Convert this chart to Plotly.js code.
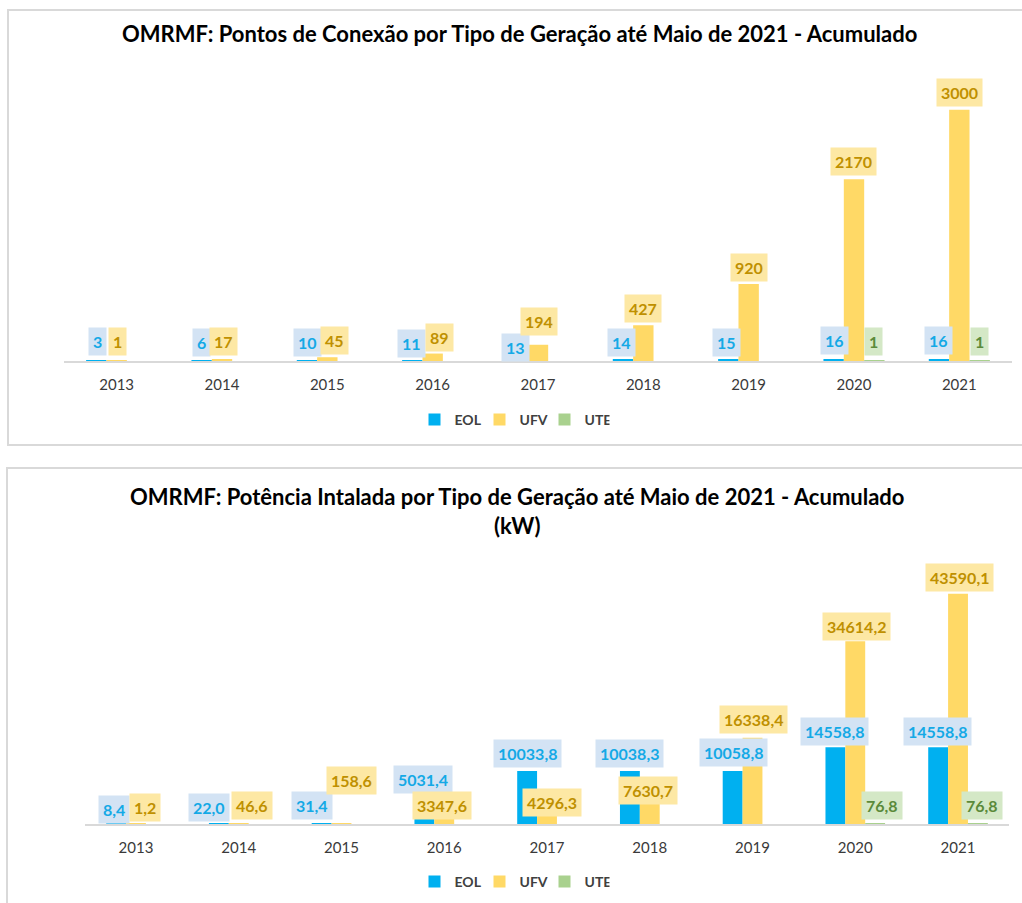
<!DOCTYPE html>
<html>
<head>
<meta charset="utf-8">
<script src="https://cdn.plot.ly/plotly-3.0.1.min.js"></script>
<style>html,body{margin:0;padding:0;background:#fff;}#chart{width:1022px;height:903px;}</style>
</head>
<body>
<div id="chart"></div>
<script>
// ---- Data ----
const years = ['2013','2014','2015','2016','2017','2018','2019','2020','2021'];
const seriesNames = ['EOL','UFV','UTE'];

// Pontos de conexão (acumulado)
const eolPontos = [3, 6, 10, 11, 13, 14, 15, 16, 16];
const ufvPontos = [1, 17, 45, 89, 194, 427, 920, 2170, 3000];
const utePontos = [null, null, null, null, null, null, null, 1, 1];

// Potência instalada (kW, acumulado)
const eolPotencia = [8.4, 22.0, 31.4, 5031.4, 10033.8, 10038.3, 10058.8, 14558.8, 14558.8];
const ufvPotencia = [1.2, 46.6, 158.6, 3347.6, 4296.3, 7630.7, 16338.4, 34614.2, 43590.1];
const utePotencia = [null, null, null, null, null, null, null, 76.8, 76.8];

const title1 = 'OMRMF: Pontos de Conexão por Tipo de Geração até Maio de 2021 - Acumulado';
const title2 = 'OMRMF: Potência Intalada por Tipo de Geração até Maio de 2021 - Acumulado<br>(kW)';

// ---- Styles ----
const W = 1022, H = 903;
const FONT = 'Lato, "Open Sans", sans-serif';
const colors = {EOL: '#00b0f0', UFV: '#ffd966', UTE: '#a9d18e'};
const textColors = {EOL: '#14a9e6', UFV: '#bf9000', UTE: '#5b8a3a'};
const boxColors = {EOL: '#d3e3f4', UFV: '#fde8a4', UTE: '#d4e8c6'};
const seriesOffset = {EOL: -20, UFV: 0, UTE: 20};

// label nudges (px) to mimic the manual placement of the original labels
const nudge1 = {
  EOL: {dx: [1,-1,0,-1,-3,-2,-2,0,-1], dy: [19,18,18,17,12,17,17,19,19]},
  UFV: {dx: [1,1,7,7,1,0,0,-1,0],     dy: [19,18,17,16,23,17,16,18,17]},
  UTE: {dx: [0,0,0,0,0,0,0,-1,0],     dy: [19,19,19,19,19,19,19,19,19]}
};
const nudge2 = {
  EOL: {dx: [-2,-10,-9,-1,0,0,1,-1,-1], dy: [14,16,18,18,18,18,18,16,16]},
  UFV: {dx: [9,13,10,-2,5,-2,1,1,1],    dy: [16,18,43,1,-1,-7,18,15,16]},
  UTE: {dx: [0,0,0,0,0,0,0,7,4],        dy: [18,18,18,18,18,18,18,18,18]}
};

const px = x => x / W;
const py = y => 1 - y / H;

function bar(name, vals, xa, ya, legend) {
  return {
    type: 'bar', name: name, x: years, y: vals, xaxis: xa, yaxis: ya,
    marker: {color: colors[name]}, legend: legend, showlegend: true,
    hoverinfo: 'x+y+name'
  };
}

const data1 = {EOL: eolPontos, UFV: ufvPontos, UTE: utePontos};
const data2 = {EOL: eolPotencia, UFV: ufvPotencia, UTE: utePotencia};

const traces = [];
seriesNames.forEach(s => traces.push(bar(s, data1[s], 'x', 'y', 'legend')));
seriesNames.forEach(s => traces.push(bar(s, data2[s], 'x2', 'y2', 'legend2')));

const annotations = [];
function addLabels(dataSet, nudge, xref, yref, fmt) {
  seriesNames.forEach(s => {
    dataSet[s].forEach((v, i) => {
      if (v === null || v === undefined) return;
      annotations.push({
        xref: xref, yref: yref, x: i, y: v,   // category index on the category axis
        xshift: seriesOffset[s] + nudge[s].dx[i], yshift: nudge[s].dy[i],
        xanchor: 'center', yanchor: 'middle',
        text: '<b>' + fmt(v) + '</b>', showarrow: false,
        font: {family: FONT, size: 16, color: textColors[s]},
        bgcolor: boxColors[s], borderpad: 4
      });
    });
  });
}
addLabels(data1, nudge1, 'x', 'y', v => String(v));
addLabels(data2, nudge2, 'x2', 'y2', v => v.toFixed(1).replace('.', ','));

annotations.push({
  xref: 'paper', yref: 'paper', x: px(519), y: py(33), xanchor: 'center', yanchor: 'middle',
  text: '<b>' + title1 + '</b>', showarrow: false, font: {family: FONT, size: 22, color: '#000'}
});
annotations.push({
  xref: 'paper', yref: 'paper', x: px(517), y: py(511), xanchor: 'center', yanchor: 'middle',
  text: '<b>' + title2 + '</b>', showarrow: false, font: {family: FONT, size: 22, color: '#000'}
});

const xaxisStyle = {
  type: 'category', range: [-0.5, years.length - 0.5], autorange: false,
  showgrid: false, zeroline: false, showline: true,
  linecolor: '#d9d9d9', linewidth: 2, ticks: 'outside', ticklen: 9,
  tickcolor: 'rgba(0,0,0,0)', tickfont: {family: FONT, size: 15, color: '#3a3a3a'},
  fixedrange: true
};
const yaxisStyle = {
  showgrid: false, zeroline: false, showline: false, showticklabels: false,
  ticks: '', fixedrange: true
};

const legendStyle = {
  orientation: 'h', xanchor: 'center', yanchor: 'middle',
  font: {family: FONT, size: 14, color: '#404040', weight: 'bold'},
  bgcolor: 'rgba(0,0,0,0)', itemclick: false, itemdoubleclick: false,
  entrywidth: 20, entrywidthmode: 'pixels', itemwidth: 30
};

const layout = {
  width: W, height: H,
  margin: {l: 0, r: 0, t: 0, b: 0, pad: 0},
  paper_bgcolor: '#fff', plot_bgcolor: 'rgba(0,0,0,0)',
  barmode: 'group', bargap: 0.42, bargroupgap: 0,
  font: {family: FONT},
  xaxis: Object.assign({}, xaxisStyle, {domain: [px(64), px(1012)], anchor: 'y'}),
  yaxis: Object.assign({}, yaxisStyle, {domain: [py(361), py(68)], range: [0, 3500], anchor: 'x'}),
  xaxis2: Object.assign({}, xaxisStyle, {domain: [px(84.6), px(1009.4)], anchor: 'y2'}),
  yaxis2: Object.assign({}, yaxisStyle, {domain: [py(824), py(560)], range: [0, 50000], anchor: 'x2'}),
  legend: Object.assign({}, legendStyle, {x: px(512), y: py(420)}),
  legend2: Object.assign({}, legendStyle, {x: px(512), y: py(882)}),
  showlegend: true,
  annotations: annotations,
  shapes: [
    {type: 'rect', xref: 'paper', yref: 'paper', x0: px(8), x1: px(1040), y0: py(445), y1: py(10),
     line: {color: '#d9d9d9', width: 2}, fillcolor: 'rgba(0,0,0,0)', layer: 'below'},
    {type: 'rect', xref: 'paper', yref: 'paper', x0: px(7), x1: px(1040), y0: py(920), y1: py(468),
     line: {color: '#d9d9d9', width: 2}, fillcolor: 'rgba(0,0,0,0)', layer: 'below'}
  ]
};

Plotly.newPlot('chart', traces, layout, {displayModeBar: false});
</script>
</body>
</html>
